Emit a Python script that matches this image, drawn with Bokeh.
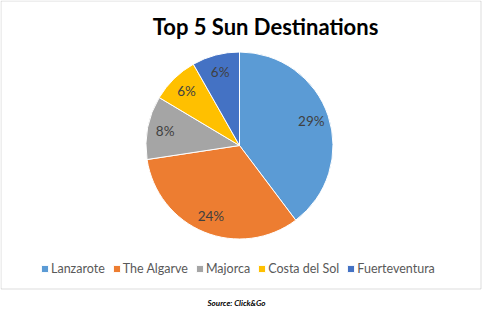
import numpy as np
from bokeh.plotting import figure
from bokeh.models import (ColumnDataSource, Range1d, Legend, LegendItem, Label,
                          BoxAnnotation)
from bokeh.core.properties import value
from bokeh.embed import file_html
from bokeh.resources import INLINE

# ---- data ----
destinations = ["Lanzarote", "The Algarve", "Majorca", "Costa del Sol", "Fuerteventura"]
shares = [29, 24, 8, 6, 6]
slice_labels = ["29%", "24%", "8%", "6%", "6%"]
colors = ["#5B9BD5", "#ED7D31", "#A5A5A5", "#FFC000", "#4472C4"]
title_text = "Top 5 Sun Destinations"
source_text = "Source: Click&Go"

W, H = 483, 321
CX, CY, R = 239, H - 145, 93.5
FONT = "Lato"

vals = np.array(shares, dtype=float)
frac = vals / vals.sum()
ends = np.pi / 2 - 2 * np.pi * np.cumsum(frac)
starts = np.concatenate([[np.pi / 2], ends[:-1]])
mids = (starts + ends) / 2

src = ColumnDataSource(dict(
    name=destinations, start=starts, end=ends, color=colors,
    lx=CX + 0.81 * R * np.cos(mids), ly=CY + 0.81 * R * np.sin(mids),
    lab=slice_labels,
))

p = figure(width=W, height=H, output_backend="svg", toolbar_location=None,
           x_range=Range1d(0, W), y_range=Range1d(0, H), min_border=0,
           background_fill_color="white", border_fill_color="white",
           outline_line_color=None)
p.axis.visible = False
p.grid.visible = False

r = p.wedge(x=CX, y=CY, radius=R, start_angle="start", end_angle="end",
            direction="clock", fill_color="color", line_color="white",
            line_width=1, source=src)

p.text(x="lx", y="ly", text="lab", source=src, text_align="center",
       text_baseline="middle", text_font=value(FONT), text_font_size="13.5px",
       text_color="#404040")

# chart frame
p.add_layout(BoxAnnotation(left=0.5, right=480.5, bottom=H - 288.5, top=H - 0.5,
                           fill_alpha=0, line_color="#8c8c8c", line_width=1))

p.add_layout(Label(x=265, y=H - 26, text=title_text, text_align="center",
                   text_baseline="middle", text_font=FONT, text_font_style="bold",
                   text_font_size="22px", text_color="#000000"))
p.add_layout(Label(x=236, y=H - 302, text=source_text, text_align="center",
                   text_baseline="middle", text_font=FONT,
                   text_font_style="bold italic", text_font_size="8px",
                   text_color="#000000"))

items = [LegendItem(label=d, renderers=[r], index=i) for i, d in enumerate(destinations)]
legend = Legend(items=items, orientation="horizontal", location=(40, 45),
                label_text_font=FONT, label_text_font_size="12.5px",
                label_text_color="#595959", glyph_width=9, glyph_height=9,
                label_standoff=2, spacing=7, padding=0, margin=0,
                background_fill_alpha=0, border_line_alpha=0, label_height=14)
p.add_layout(legend, "center")

open("out.html", "w").write(file_html(p, INLINE))
